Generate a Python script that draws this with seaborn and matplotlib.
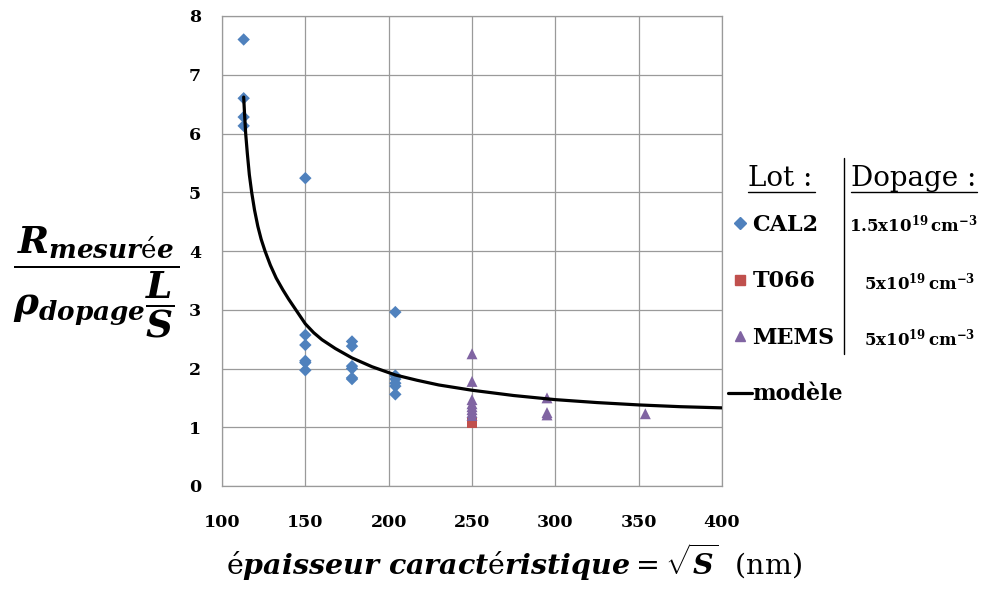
import numpy as np
import pandas as pd
import matplotlib
matplotlib.use('Agg')
import matplotlib.pyplot as plt
import seaborn as sns
from matplotlib.lines import Line2D

cal2_x = [113, 113, 113, 113, 150, 150, 150, 150, 150, 150,
          178, 178, 178, 178, 178, 178, 204, 204, 204, 204, 204, 204]
cal2_y = [7.60, 6.60, 6.28, 6.13, 5.24, 2.57, 2.40, 2.13, 2.10, 1.97,
          2.46, 2.38, 2.04, 2.00, 1.84, 1.82, 2.96, 1.88, 1.82, 1.75, 1.70, 1.56]
t066_x = [250, 250]
t066_y = [1.06, 1.08]
mems_x = [250, 250, 250, 250, 250, 250, 250, 250, 295, 295, 295, 354]
mems_y = [2.25, 1.78, 1.47, 1.40, 1.35, 1.30, 1.25, 1.20, 1.50, 1.25, 1.21, 1.23]

# model curve, points
model_x = [113, 113.6, 114.2, 115.2, 116.4, 117.8, 119.5, 121.5, 123.5, 125.8, 129, 132.5, 136.5, 140,
           143.8, 150, 155, 160, 168, 178, 190, 204, 217, 230, 250, 275, 300, 325, 350, 375, 400]
model_y = [6.62, 6.30, 6.00, 5.66, 5.30, 5.00, 4.70, 4.42, 4.20, 4.00, 3.76, 3.54, 3.34, 3.18,
           3.02, 2.76, 2.61, 2.49, 2.34, 2.18, 2.03, 1.89, 1.80, 1.72, 1.63, 1.54, 1.47, 1.42, 1.38, 1.35, 1.33]

lots = ['CAL2', 'T066', 'MEMS']
dopages = [r'$\mathbf{1.5x10^{19}\,cm^{-3}}$', r'$\mathbf{5x10^{19}\,cm^{-3}}$', r'$\mathbf{5x10^{19}\,cm^{-3}}$']
colors = {'CAL2': '#4F81BD', 'T066': '#C0504D', 'MEMS': '#8064A2'}
markers = {'CAL2': 'D', 'T066': 's', 'MEMS': '^'}
msize = {'CAL2': 40, 'T066': 42, 'MEMS': 62}

df = pd.DataFrame({
    'x': cal2_x + t066_x + mems_x,
    'y': cal2_y + t066_y + mems_y,
    'lot': ['CAL2'] * len(cal2_x) + ['T066'] * len(t066_x) + ['MEMS'] * len(mems_x),
})
model = pd.DataFrame({'x': model_x, 'y': model_y})

sns.set_style('white')
plt.rcParams['font.family'] = ['DejaVu Serif']
plt.rcParams['text.color'] = 'black'
plt.rcParams['xtick.labelcolor'] = 'black'
plt.rcParams['ytick.labelcolor'] = 'black'
plt.rcParams['mathtext.fontset'] = 'custom'
plt.rcParams['mathtext.rm'] = 'DejaVu Serif'
plt.rcParams['mathtext.bf'] = 'DejaVu Serif:bold'
plt.rcParams['mathtext.it'] = 'DejaVu Serif:italic:bold'

fig = plt.figure(figsize=(9.83, 5.89), dpi=100)
W, H = 983, 589
ax = fig.add_axes([222 / W, 1 - 486 / H, 500 / W, 470 / H])

for lot in lots:
    sns.scatterplot(data=df[df['lot'] == lot], x='x', y='y', color=colors[lot], marker=markers[lot],
                    s=msize[lot], edgecolor='none', legend=False, ax=ax, zorder=3)
sns.lineplot(data=model, x='x', y='y', color='black', lw=2.3, ax=ax, zorder=4,
             solid_joinstyle='round', solid_capstyle='round')

ax.set_xlim(100, 400)
ax.set_ylim(0, 8)
ax.set_xticks(np.arange(100, 401, 50))
ax.set_yticks(np.arange(0, 9, 1))
ax.grid(True, color='#9a9a9a', lw=0.9)
for sp in ax.spines.values():
    sp.set_color('#9a9a9a')
    sp.set_linewidth(0.9)
ax.tick_params(axis='x', length=5, color='#9a9a9a', labelcolor='black', pad=15, labelsize=12.5)
ax.tick_params(axis='y', length=6, color='#9a9a9a', labelcolor='black', pad=9, labelsize=12.5)
for lab in ax.get_xticklabels() + ax.get_yticklabels():
    lab.set_fontweight('bold')
ax.set_xlabel('')
ax.set_ylabel('')

# axis titles
fig.text(96 / W, 1 - 282 / H, r'$\dfrac{R_{mesur\mathrm{\acute{e}}e}}{\rho_{dopage}\dfrac{L}{S}}$',
         ha='center', va='center', fontsize=27)
fig.text(514 / W, 1 - 562 / H, r'$\mathrm{\acute{e}}paisseur\ caract\mathrm{\acute{e}}ristique = \sqrt{S}$  (nm)',
         ha='center', va='center', fontsize=20.5)

# legend
handles = [Line2D([], [], ls='none', marker=markers[l], color=colors[l], markersize=6.5) for l in lots]
handles.append(Line2D([], [], color='black', lw=2.3))
leg = fig.legend(handles, lots + ['modèle'], loc='upper left', bbox_to_anchor=(728 / W, 1 - 214 / H),
                 frameon=False, borderpad=0, borderaxespad=0, handlelength=1.1, handletextpad=0.0,
                 labelspacing=1.55, labelcolor='black',
                 prop={'family': 'DejaVu Serif', 'weight': 'bold', 'size': 16})

fig.text(748 / W, 1 - 178 / H, 'Lot :', ha='left', va='center', fontsize=20)
fig.text(851 / W, 1 - 178 / H, 'Dopage :', ha='left', va='center', fontsize=20)
fig.add_artist(Line2D([748 / W, 815 / W], [1 - 192 / H] * 2, color='black', lw=1))
fig.add_artist(Line2D([851 / W, 977 / W], [1 - 192 / H] * 2, color='black', lw=1))
fig.add_artist(Line2D([844 / W] * 2, [1 - 158 / H, 1 - 354 / H], color='black', lw=1))
for yy, xx, txt in zip([224, 282, 338], [849, 864, 864], dopages):
    fig.text(xx / W, 1 - yy / H, txt, ha='left', va='center', fontsize=12)

fig.savefig('out.png', dpi=100)
